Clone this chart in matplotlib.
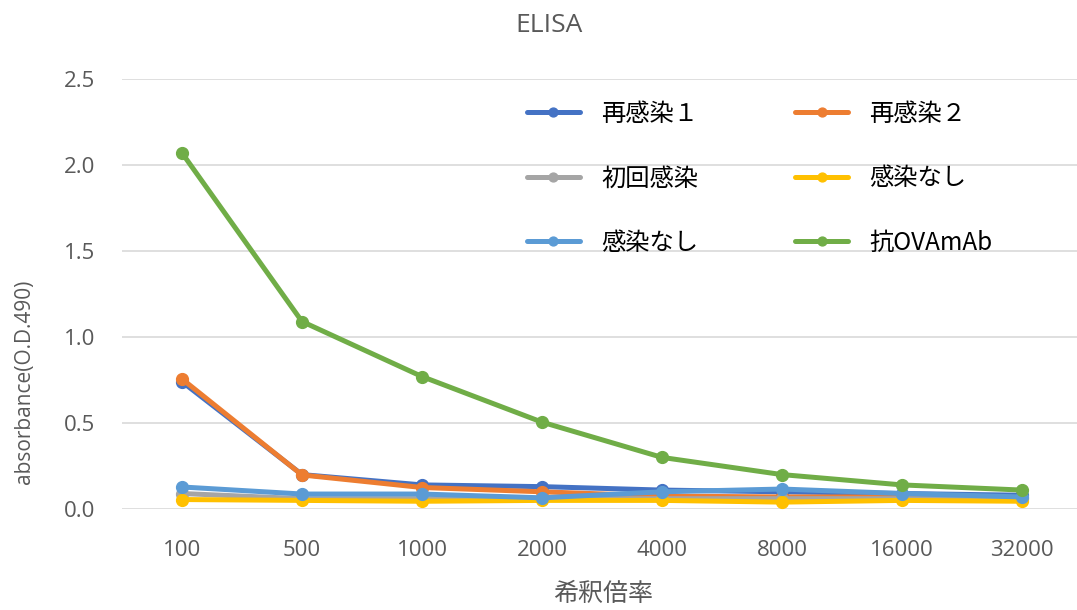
import matplotlib.pyplot as plt

plt.rcParams['font.family'] = ['Noto Sans CJK JP', 'DejaVu Sans']

dilutions = ["100", "500", "1000", "2000", "4000", "8000", "16000", "32000"]

reinf1 = [0.74, 0.20, 0.14, 0.13, 0.11, 0.10, 0.09, 0.08]
reinf2 = [0.756, 0.198, 0.125, 0.10, 0.075, 0.07, 0.07, 0.065]
primary = [0.09, 0.06, 0.06, 0.06, 0.06, 0.06, 0.06, 0.06]
uninf_a = [0.055, 0.05, 0.045, 0.05, 0.05, 0.04, 0.05, 0.045]
uninf_b = [0.128, 0.087, 0.087, 0.065, 0.10, 0.116, 0.09, 0.07]
anti_ova = [2.07, 1.09, 0.77, 0.505, 0.30, 0.20, 0.14, 0.11]

series = [
    ("再感染１", reinf1, "#4472C4"),
    ("再感染２", reinf2, "#ED7D31"),
    ("初回感染", primary, "#A5A5A5"),
    ("感染なし", uninf_a, "#FFC000"),
    ("感染なし", uninf_b, "#5B9BD5"),
    ("抗OVAmAb", anti_ova, "#70AD47"),
]

GRAY = "#595959"
LATIN = ['Open Sans', 'DejaVu Sans']

fig = plt.figure(figsize=(10.77, 6.10), dpi=100)
ax = fig.add_axes([122 / 1077, 101 / 610, 960 / 1077, 430 / 610])

x = list(range(len(dilutions)))
handles = []
for name, vals, col in series:
    (ln,) = ax.plot(x, vals, color=col, lw=3.6, marker="o", ms=8.5,
                    solid_capstyle="round", solid_joinstyle="round", label=name)
    handles.append(ln)

ax.set_xlim(-0.5, len(dilutions) - 0.5)
ax.set_ylim(0, 2.5)
ax.set_yticks([0, 0.5, 1.0, 1.5, 2.0, 2.5])
ax.set_yticklabels(["0.0", "0.5", "1.0", "1.5", "2.0", "2.5"])
ax.set_xticks(x)
ax.set_xticklabels(dilutions)
ax.grid(axis="y", color="#D9D9D9", lw=1.2)
ax.set_axisbelow(True)
for s in ax.spines.values():
    s.set_visible(False)
ax.tick_params(length=0, labelsize=16, colors=GRAY)
ax.tick_params(axis="x", pad=22)
ax.tick_params(axis="y", pad=19)
for t in ax.get_xticklabels() + ax.get_yticklabels():
    t.set_family(LATIN)

fig.text(549 / 1077, 1 - 25 / 610, "ELISA", fontsize=19, color=GRAY,
         family=LATIN, ha="center", va="center")
fig.text(25 / 1077, 1 - 382 / 610, "absorbance(O.D.490)", fontsize=15,
         color=GRAY, family=LATIN, rotation=90, ha="center", va="center")
fig.text(603 / 1077, 1 - 594 / 610, "希釈倍率", fontsize=18, color=GRAY,
         ha="center", va="center")

# legend fills column-first, so reorder to read across rows
order = [0, 2, 4, 1, 3, 5]
ax.legend([handles[i] for i in order], [series[i][0] for i in order],
          loc="upper left", bbox_to_anchor=(527 / 1077, 1 - 101 / 610),
          bbox_transform=fig.transFigure, ncol=2, frameon=False,
          fontsize=17.5, handlelength=2.18, handletextpad=0.86,
          labelspacing=1.58, columnspacing=4.0, borderaxespad=0,
          borderpad=0, markerscale=0.75)

fig.savefig("out.png", dpi=100)
